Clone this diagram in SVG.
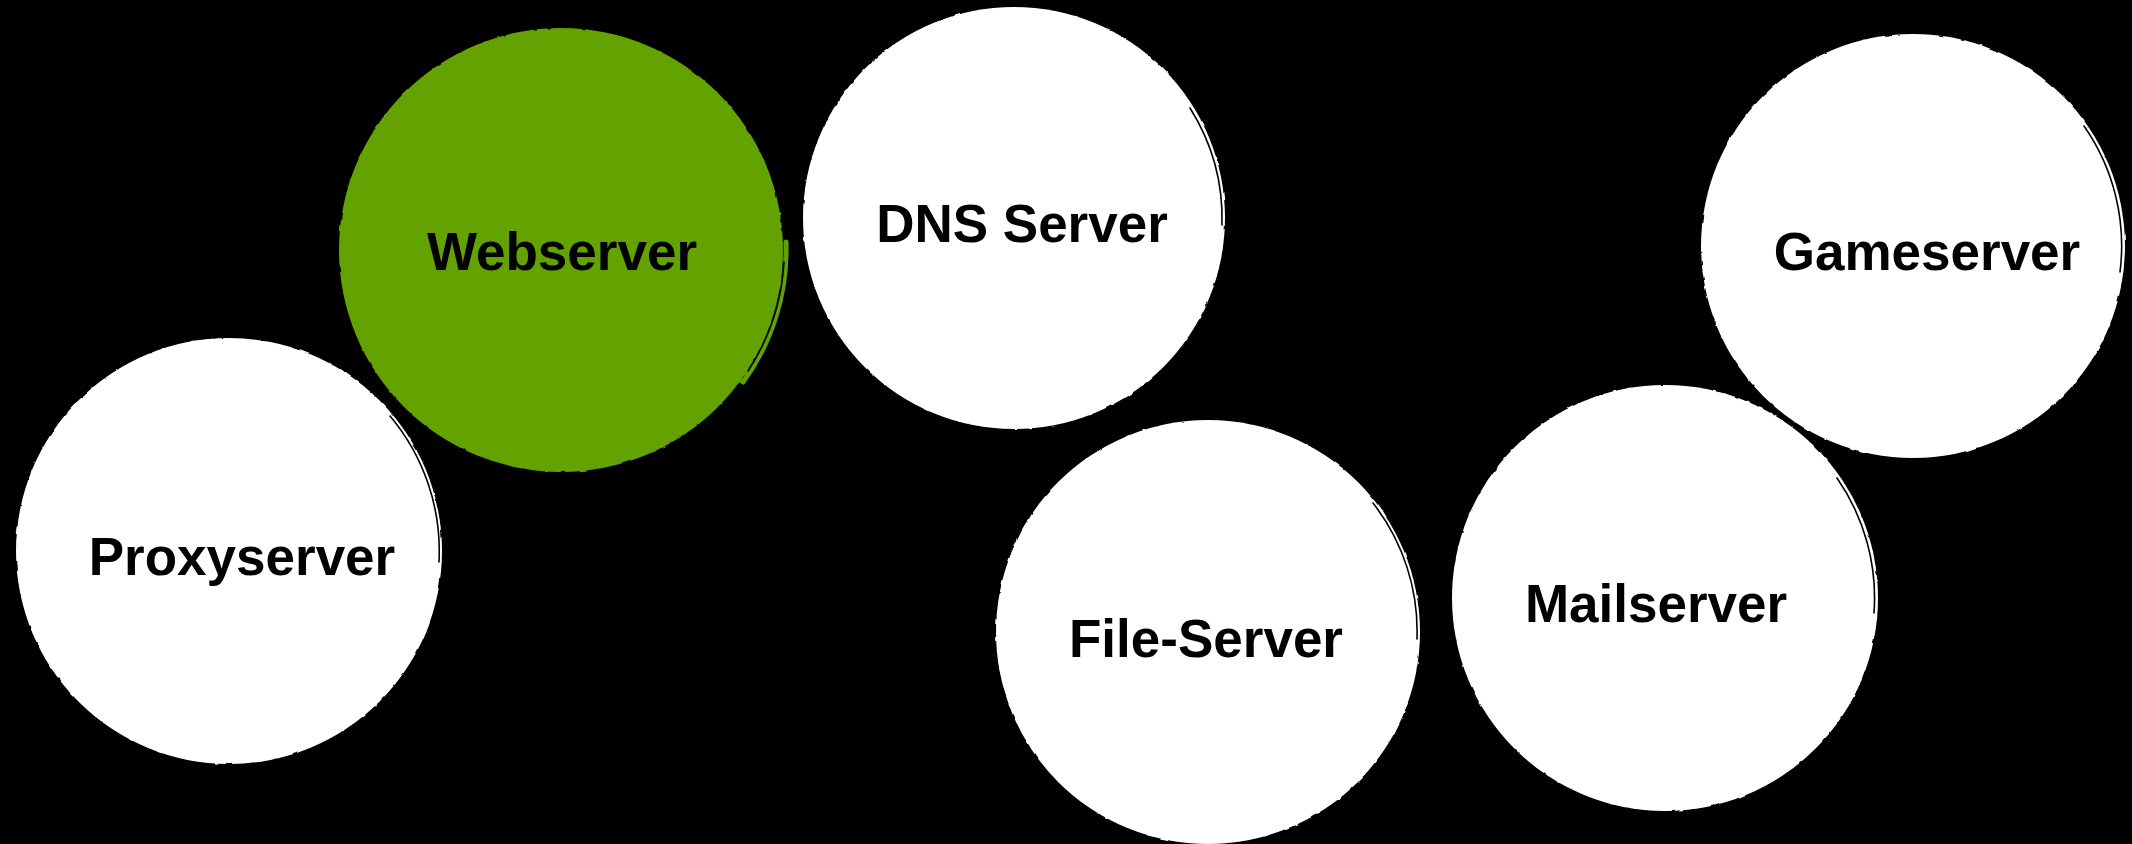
<svg xmlns="http://www.w3.org/2000/svg" width="2132" height="844" viewBox="0 0 2132 844">
  <defs>
    <filter id="rough" x="-5%" y="-5%" width="110%" height="110%">
      <feTurbulence type="fractalNoise" baseFrequency="0.09" numOctaves="2" seed="3" result="n"/>
      <feDisplacementMap in="SourceGraphic" in2="n" scale="2.5" xChannelSelector="R" yChannelSelector="G"/>
    </filter>
  </defs>
  <style>
    .bubble { fill: #ffffff; filter: url(#rough); }
    .green { fill: #63a205; filter: url(#rough); }
    .streak { fill: none; stroke: #000000; stroke-width: 1.6; stroke-linecap: round; }
    .greenrim { fill: none; stroke: #63a205; stroke-width: 5; stroke-linecap: round; }
    .label { font-family: "Liberation Sans", Arial, sans-serif; font-weight: bold; font-size: 53px; fill: #000000; text-anchor: middle; }
  </style>
  <rect x="0" y="0" width="2132" height="844" fill="#000000"/>

  <g id="webserver">
    <circle class="green" cx="561" cy="250" r="222"/>
    <path class="greenrim" d="M786,242 A225,225 0 0 1 743,382"/>
    <path class="streak" d="M784,262 A222.5,222.5 0 0 1 748,371"/>
    <text class="label" x="562" y="270">Webserver</text>
  </g>

  <g id="dns-server">
    <circle class="bubble" cx="1014" cy="218" r="211"/>
    <path class="streak" d="M1190,108 A208,208 0 0 1 1222,225"/>
    <text class="label" x="1022" y="242">DNS Server</text>
  </g>

  <g id="gameserver">
    <circle class="bubble" cx="1913" cy="246" r="212"/>
    <path class="streak" d="M2084,126 A209,209 0 0 1 2120,272"/>
    <text class="label" x="1927" y="270">Gameserver</text>
  </g>

  <g id="proxyserver">
    <circle class="bubble" cx="229" cy="551" r="213"/>
    <path class="streak" d="M390,416 A210,210 0 0 1 439,562"/>
    <text class="label" x="242" y="575">Proxyserver</text>
  </g>

  <g id="file-server">
    <circle class="bubble" cx="1208" cy="632" r="212"/>
    <path class="streak" d="M1373,503 A209,209 0 0 1 1417,639"/>
    <text class="label" x="1206" y="657">File-Server</text>
  </g>

  <g id="mailserver">
    <circle class="bubble" cx="1665" cy="598" r="213"/>
    <path class="streak" d="M1837,478 A210,210 0 0 1 1874,613"/>
    <text class="label" x="1656" y="622">Mailserver</text>
  </g>

  <g id="connectors"/>
</svg>
